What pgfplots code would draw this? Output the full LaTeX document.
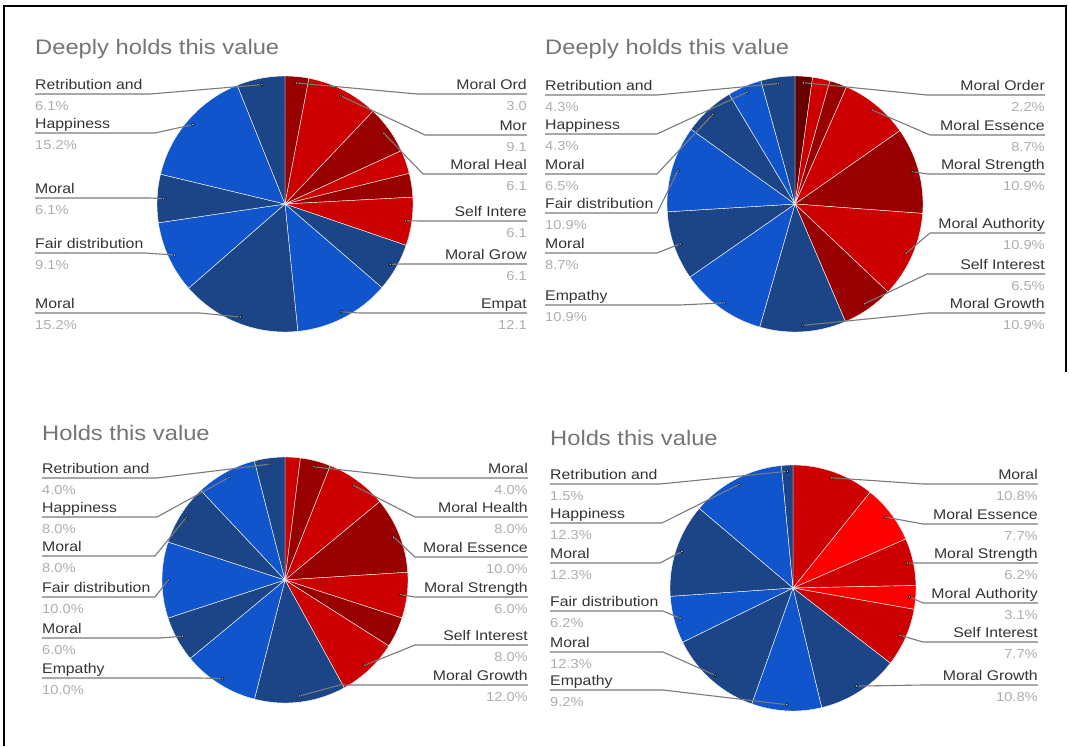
\documentclass[border=0pt]{standalone}
\usepackage{fontspec}
\setmainfont{Liberation Sans}[FakeStretch=1.13]
\usepackage{pgfplots}
\pgfplotsset{compat=1.18}
\definecolor{dblue}{HTML}{1C4587}
\definecolor{mblue}{HTML}{1155CC}
\definecolor{mred}{HTML}{CC0000}
\definecolor{dred}{HTML}{990000}
\definecolor{ddred}{HTML}{660000}
\definecolor{bred}{HTML}{FF0000}
\definecolor{namec}{HTML}{333333}
\definecolor{pctc}{HTML}{AEAEAE}
\definecolor{ttlc}{HTML}{757575}
\definecolor{leadc}{HTML}{7A7A7A}
\tikzset{
  nm/.style={font=\fontsize{14}{16}\selectfont, text=namec, inner sep=0pt},
  pc/.style={font=\fontsize{13}{15}\selectfont, text=pctc, inner sep=0pt},
  ttl/.style={font=\fontsize{21}{24}\selectfont, text=ttlc, inner sep=0pt},
}
% pie: id, cx, cy, r, list of value/colour (clockwise from the top)
\newcommand\pie[5]{%
  \expandafter\xdef\csname pcx#1\endcsname{#2}%
  \expandafter\xdef\csname pcy#1\endcsname{#3}%
  \expandafter\xdef\csname pr#1\endcsname{#4}%
  \gdef\pietotal{0}%
  \foreach \v/\c in {#5} {\pgfmathparse{\pietotal+\v}\xdef\pietotal{\pgfmathresult}}%
  \gdef\piestart{0}\gdef\pieidx{0}%
  \foreach \v/\c in {#5} {%
    \pgfmathsetmacro\pieend{\piestart+360*\v/\pietotal}%
    \pgfmathsetmacro\piemid{(\piestart+\pieend)/2}%
    \pgfmathtruncatemacro\newidx{\pieidx+1}%
    \xdef\pieidx{\newidx}%
    \expandafter\xdef\csname pm#1-\pieidx\endcsname{\piemid}%
    \edef\temp{\noexpand\addplot[fill=\c, draw=white, line width=0.4pt, domain=\piestart:\pieend, samples=40] ({#2+#4*sin(x)},{#3-#4*cos(x)}) -- (axis cs:#2,#3) -- cycle;}%
    \temp
    \xdef\piestart{\pieend}%
  }%
}
% label: id, slice index, anchor side, text x, name, percent, line y, elbow x
\newcommand\lab[8]{%
  \pgfmathsetmacro\dx{\csname pcx#1\endcsname+0.95*\csname pr#1\endcsname*sin(\csname pm#1-#2\endcsname)}%
  \pgfmathsetmacro\dy{\csname pcy#1\endcsname-0.95*\csname pr#1\endcsname*cos(\csname pm#1-#2\endcsname)}%
  \pgfmathsetmacro\by{#7-4.5}%
  \pgfmathsetmacro\py{#7+16.5}%
  \edef\temp{%
    \noexpand\addplot[leadc, line width=1.1pt, no markers] coordinates {(#4,#7) (#8,#7) (\dx,\dy)};
    \noexpand\addplot[only marks, mark=*, mark size=1.5pt, mark options={draw=none, fill=white, fill opacity=0.55}] coordinates {(\dx,\dy)};
    \noexpand\node[nm, anchor=base #3] at (axis cs:#4,\by) {#5};
    \noexpand\node[pc, anchor=base #3] at (axis cs:#4,\py) {#6};
  }\temp
}
\begin{document}
\begin{tikzpicture}
\begin{axis}[
  scale only axis, width=1069pt, height=746pt,
  xmin=0, xmax=1069, ymin=0, ymax=746, enlargelimits=false,
  y dir=reverse, hide axis, clip=false]
\fill[white] (axis cs:0,0) rectangle (axis cs:1069,746);
\draw[black, line width=2pt] (axis cs:4,746) -- (axis cs:4,6) -- (axis cs:1066,6) -- (axis cs:1066,372);

% ---- Top left: Deeply holds this value
\pie{a}{285}{204}{128}{3.0/dred, 9.1/mred, 6.1/dred, 3.0/mred, 3.0/dred, 6.1/mred, 6.1/dblue, 12.1/mblue, 15.2/dblue, 9.1/mblue, 6.1/dblue, 15.2/mblue, 6.1/dblue}
\node[ttl, anchor=base west] at (axis cs:35,54) {Deeply holds this value};
\lab{a}{13}{west}{35}{Retribution and}{6.1\%}{94}{150}
\lab{a}{12}{west}{35}{Happiness}{15.2\%}{133}{155}
\lab{a}{11}{west}{35}{Moral}{6.1\%}{198}{150}
\lab{a}{10}{west}{35}{Fair distribution}{9.1\%}{253}{145}
\lab{a}{9}{west}{35}{Moral}{15.2\%}{313}{200}
\lab{a}{1}{east}{527}{Moral Ord}{3.0}{94}{417}
\lab{a}{2}{east}{527}{Mor}{9.1}{135}{425}
\lab{a}{3}{east}{527}{Moral Heal}{6.1}{174}{423}
\lab{a}{6}{east}{527}{Self Intere}{6.1}{221}{420}
\lab{a}{7}{east}{527}{Moral Grow}{6.1}{264}{400}
\lab{a}{8}{east}{527}{Empat}{12.1}{313}{360}

% ---- Top right: Deeply holds this value
\pie{b}{795}{204}{128}{2.2/ddred, 2.2/mred, 2.2/dred, 8.7/mred, 10.9/dred, 10.9/mred, 6.5/dred, 10.9/dblue, 10.9/mblue, 8.7/dblue, 10.9/mblue, 6.5/dblue, 4.3/mblue, 4.3/dblue}
\node[ttl, anchor=base west] at (axis cs:545,54) {Deeply holds this value};
\lab{b}{14}{west}{545}{Retribution and}{4.3\%}{95}{657}
\lab{b}{13}{west}{545}{Happiness}{4.3\%}{134}{657}
\lab{b}{12}{west}{545}{Moral}{6.5\%}{174}{657}
\lab{b}{11}{west}{545}{Fair distribution}{10.9\%}{213}{657}
\lab{b}{10}{west}{545}{Moral}{8.7\%}{253}{657}
\lab{b}{9}{west}{545}{Empathy}{10.9\%}{305}{680}
\lab{b}{1}{east}{1045}{Moral Order}{2.2\%}{95}{927}
\lab{b}{4}{east}{1045}{Moral Essence}{8.7\%}{135}{930}
\lab{b}{5}{east}{1045}{Moral Strength}{10.9\%}{174}{928}
\lab{b}{6}{east}{1045}{Moral Authority}{10.9\%}{233}{930}
\lab{b}{7}{east}{1045}{Self Interest}{6.5\%}{274}{927}
\lab{b}{8}{east}{1045}{Moral Growth}{10.9\%}{313}{928}

% ---- Bottom left: Holds this value
\pie{c}{285}{580}{123}{2/mred, 4/dred, 8/mred, 10/dred, 6/mred, 4/dred, 8/mred, 12/dblue, 10/mblue, 6/dblue, 10/mblue, 8/dblue, 8/mblue, 4/dblue}
\node[ttl, anchor=base west] at (axis cs:42,440) {Holds this value};
\lab{c}{14}{west}{42}{Retribution and}{4.0\%}{478}{157}
\lab{c}{13}{west}{42}{Happiness}{8.0\%}{517}{157}
\lab{c}{12}{west}{42}{Moral}{8.0\%}{556}{155}
\lab{c}{11}{west}{42}{Fair distribution}{10.0\%}{597}{155}
\lab{c}{10}{west}{42}{Moral}{6.0\%}{638}{160}
\lab{c}{9}{west}{42}{Empathy}{10.0\%}{678}{200}
\lab{c}{2}{east}{528}{Moral}{4.0\%}{478}{415}
\lab{c}{3}{east}{528}{Moral Health}{8.0\%}{517}{415}
\lab{c}{4}{east}{528}{Moral Essence}{10.0\%}{557}{415}
\lab{c}{5}{east}{528}{Moral Strength}{6.0\%}{597}{415}
\lab{c}{7}{east}{528}{Self Interest}{8.0\%}{645}{415}
\lab{c}{8}{east}{528}{Moral Growth}{12.0\%}{685}{340}

% ---- Bottom right: Holds this value
\pie{d}{793}{588}{123}{10.8/mred, 7.7/bred, 6.2/mred, 3.1/bred, 7.7/mred, 10.8/dblue, 9.2/mblue, 12.3/dblue, 6.2/mblue, 12.3/dblue, 12.3/mblue, 1.5/dblue}
\node[ttl, anchor=base west] at (axis cs:550,445) {Holds this value};
\lab{d}{12}{west}{550}{Retribution and}{1.5\%}{484}{660}
\lab{d}{11}{west}{550}{Happiness}{12.3\%}{523}{662}
\lab{d}{10}{west}{550}{Moral}{12.3\%}{563}{660}
\lab{d}{9}{west}{550}{Fair distribution}{6.2\%}{611}{663}
\lab{d}{8}{west}{550}{Moral}{12.3\%}{652}{663}
\lab{d}{7}{west}{550}{Empathy}{9.2\%}{690}{663}
\lab{d}{1}{east}{1038}{Moral}{10.8\%}{484}{923}
\lab{d}{2}{east}{1038}{Moral Essence}{7.7\%}{524}{923}
\lab{d}{3}{east}{1038}{Moral Strength}{6.2\%}{563}{923}
\lab{d}{4}{east}{1038}{Moral Authority}{3.1\%}{603}{923}
\lab{d}{5}{east}{1038}{Self Interest}{7.7\%}{642}{923}
\lab{d}{6}{east}{1038}{Moral Growth}{10.8\%}{685}{923}
\end{axis}
\end{tikzpicture}
\end{document}
